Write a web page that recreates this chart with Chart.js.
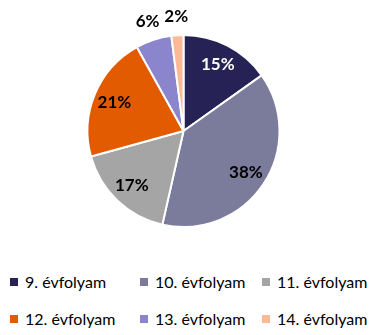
<!DOCTYPE html>
<html>
<head>
<meta charset="utf-8">
<script src="https://cdn.jsdelivr.net/npm/chart.js@4"></script>
<style>
  body { margin: 0; background: #fff; font-family: Lato, "Open Sans", sans-serif; }
  #wrap { position: relative; width: 375px; height: 250px; }
  #legend { display: grid; grid-template-columns: 130px 122px 113px; padding-left: 10px; margin-top: 22px; row-gap: 18px; }
  .item { display: flex; align-items: center; font-size: 16px; color: #000; white-space: nowrap; }
  .box { width: 8px; height: 8px; margin-right: 7px; }
</style>
</head>
<body>
<div id="wrap"><canvas id="myChart"></canvas></div>
<div id="legend"></div>
<script>
// Categories and values
var labels = ['9. évfolyam', '10. évfolyam', '11. évfolyam', '12. évfolyam', '13. évfolyam', '14. évfolyam'];
var values = [15, 38, 17, 21, 6, 2];
var colors = ['#262256', '#7B7B9C', '#A5A5A5', '#E35B00', '#8A85CC', '#FDB996'];
var labelColors = ['#fff', '#000', '#000', '#000', '#000', '#000'];

// Draw percentage labels on the slices
var pctLabels = {
    id: 'pctLabels',
    afterDatasetsDraw: function (chart) {
        var ctx = chart.ctx;
        var meta = chart.getDatasetMeta(0);
        var total = values.reduce(function (a, b) { return a + b; }, 0);
        ctx.save();
        ctx.font = 'bold 17px Lato, "Open Sans", sans-serif';
        ctx.textAlign = 'center';
        ctx.textBaseline = 'middle';
        meta.data.forEach(function (arc, i) {
            var mid = (arc.startAngle + arc.endAngle) / 2;
            var r = values[i] < 10 ? arc.outerRadius * 1.2 : arc.outerRadius * 0.78;
            var x = arc.x + Math.cos(mid) * r;
            var y = arc.y + Math.sin(mid) * r;
            ctx.fillStyle = labelColors[i];
            ctx.fillText(Math.round(values[i] / total * 100) + '%', x, y);
        });
        ctx.restore();
    }
};

var ctx = document.getElementById('myChart').getContext('2d');
var myChart = new Chart(ctx, {
    type: 'pie',
    data: {
        labels: labels,
        datasets: [{
            data: values,
            backgroundColor: colors,
            borderColor: '#fff',
            borderWidth: 2
        }]
    },
    options: {
        responsive: true,
        maintainAspectRatio: false,
        animation: false,
        layout: { padding: { top: 34, bottom: 22, left: 0, right: 8 } },
        plugins: {
            legend: { display: false },
            tooltip: { enabled: false }
        }
    },
    plugins: [pctLabels]
});

// Legend built from the same arrays
var legend = document.getElementById('legend');
labels.forEach(function (name, i) {
    var item = document.createElement('div');
    item.className = 'item';
    item.innerHTML = '<span class="box" style="background:' + colors[i] + '"></span>' + name;
    legend.appendChild(item);
});
</script>
</body>
</html>
